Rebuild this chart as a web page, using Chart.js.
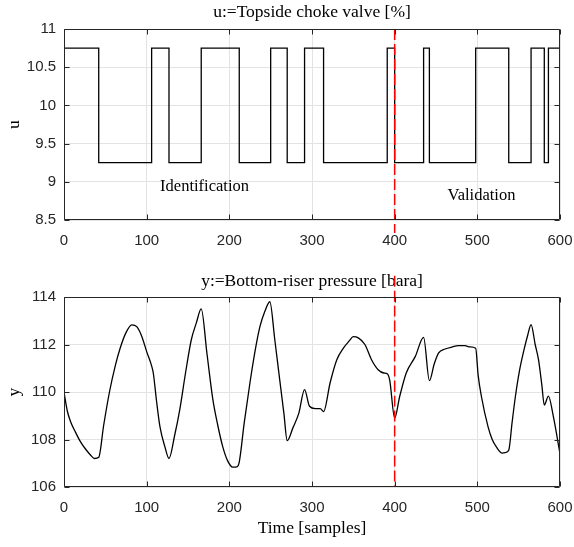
<!DOCTYPE html>
<html lang="en">
<head>
<meta charset="UTF-8">
<title>Topside choke valve / bottom-riser pressure</title>
<script src="https://cdn.jsdelivr.net/npm/chart.js"></script>
<style>
    body { margin: 0; background: #fff; }
    #wrap { position: relative; width: 574px; height: 547px; }
    .panel { position: absolute; left: 0; width: 574px; }
</style>
</head>
<body>
<div id="wrap">
    <div class="panel" style="top:0;height:260px"><canvas id="u-chart" width="574" height="260"></canvas></div>
    <div class="panel" style="top:260px;height:287px"><canvas id="y-chart" width="574" height="287"></canvas></div>
</div>
<script>
// input u: switching instants (samples) and the level held from each instant on
const uTimes  = [0, 42, 106, 127, 166, 212, 250, 270, 291, 314, 391, 400, 435, 442, 498, 538, 565, 581, 586, 600];
const uValues = [10.75, 9.25, 10.75, 9.25, 10.75, 9.25, 10.75, 9.25, 10.75, 9.25,
                 10.75, 9.25, 10.75, 9.25, 10.75, 9.25, 10.75, 9.25, 10.75, 10.75];

// output y: bottom-riser pressure
const ySamples = [0, 4, 8, 14, 20, 26, 32, 37, 42, 48, 55, 62, 68, 75, 82, 88, 94, 100, 106, 108,
                  112, 116, 122, 127, 134, 140, 147, 154, 160, 166, 173, 180, 186, 192, 198, 204, 209, 212,
                  218, 225, 231, 237, 243, 249, 255, 261, 266, 270, 277, 284, 291, 297, 304, 310, 314,
                  322, 330, 338, 345, 350, 356, 364, 372, 380, 387, 391, 394, 400, 406, 414, 425, 435,
                  442, 448, 453, 461, 470, 477, 485, 491, 498, 501, 505, 513, 518, 523, 530, 534, 538,
                  542, 546, 551, 556, 561, 565, 570, 574, 578, 581, 586, 592, 600];
const yValues  = [110.0, 109.2, 108.75, 108.3, 107.9, 107.6, 107.35, 107.2, 107.25, 108.6, 110.0, 111.1,
                  111.85, 112.5, 112.83, 112.75, 112.35, 111.7, 111.1, 110.8,
                  109.6, 108.55, 107.7, 107.2, 108.2, 109.25, 110.8, 112.2, 112.9, 113.5, 111.6, 109.7,
                  108.6, 107.7, 107.1, 106.84, 106.85, 107.05,
                  108.7, 110.4, 111.7, 112.75, 113.4, 113.8, 112.2, 110.5, 109.1, 107.95, 108.5, 109.1,
                  110.1, 109.4, 109.3, 109.3, 109.17,
                  110.4, 111.36, 111.85, 112.15, 112.33, 112.28, 112.0, 111.36, 110.94, 110.8, 110.77,
                  110.5, 108.9, 109.8, 110.8, 111.5, 112.3,
                  110.48, 111.2, 111.64, 111.81, 111.9, 111.95, 111.95, 111.9, 111.84, 110.7, 109.8,
                  108.53, 108.0, 107.69, 107.43, 107.45, 107.55,
                  108.7, 109.8, 110.9, 111.71, 112.4, 112.84, 112.0, 111.36, 110.3, 109.45, 109.83,
                  108.96, 107.4];

// identification / validation split
const splitSample = 400;
const uSplitSpan = [11, 8.33];
const ySplitSpan = [114.9, 106];

// axes
const xRange = [0, 600];
const xStep = 100;
const uRange = [8.5, 11];
const uStep = 0.5;
const yRange = [106, 114];
const yStep = 2;

// texts
const uTitle = 'u:=Topside choke valve [%]';
const yTitle = 'y:=Bottom-riser pressure [bara]';
const xLabel = 'Time [samples]';
const uNotes = [{ text: 'Identification', x: 170, y: 8.94 }, { text: 'Validation', x: 505, y: 8.82 }];

const serif = '"Liberation Serif", "Times New Roman", serif';
Chart.defaults.font.family = '"Liberation Sans", Arial, sans-serif';
Chart.defaults.font.size = 15;
Chart.defaults.color = '#262626';

// box round the axes, inward tick marks and the text notes
const frame = {
    id: 'frame',
    afterDatasetsDraw(chart, args, opts) {
        const { ctx, chartArea: a, scales: { x, y } } = chart;
        ctx.save();
        ctx.strokeStyle = '#262626';
        ctx.lineWidth = 1;
        const l = Math.round(a.left) + 0.5, r = Math.round(a.right) - 0.5;
        const t = Math.round(a.top) + 0.5, b = Math.round(a.bottom) - 0.5;
        ctx.beginPath();
        x.ticks.forEach(tk => {
            const px = Math.round(x.getPixelForValue(tk.value)) + 0.5;
            ctx.moveTo(px, b); ctx.lineTo(px, b - 5);
            ctx.moveTo(px, t); ctx.lineTo(px, t + 5);
        });
        y.ticks.forEach(tk => {
            const py = Math.round(y.getPixelForValue(tk.value)) + 0.5;
            ctx.moveTo(l, py); ctx.lineTo(l + 5, py);
            ctx.moveTo(r, py); ctx.lineTo(r - 5, py);
        });
        ctx.rect(l, t, r - l, b - t);
        ctx.stroke();
        (opts.notes || []).forEach(n => {
            ctx.font = '16.5px ' + serif;
            ctx.fillStyle = '#000';
            ctx.textAlign = 'center';
            ctx.textBaseline = 'middle';
            ctx.fillText(n.text, x.getPixelForValue(n.x), y.getPixelForValue(n.y));
        });
        ctx.restore();
    }
};

function makeChart(id, o) {
    const ctx = document.getElementById(id).getContext('2d');
    return new Chart(ctx, {
        type: 'line',
        data: {
            datasets: [{
                data: o.points,
                borderColor: '#000',
                borderWidth: 1.3,
                pointRadius: 0,
                stepped: o.stepped,
                cubicInterpolationMode: o.stepped ? 'default' : 'monotone',
                order: 1
            }, {
                data: [{ x: splitSample, y: o.split[0] }, { x: splitSample, y: o.split[1] }],
                borderColor: '#ff0000',
                borderWidth: 1.5,
                borderDash: [11, 4],
                pointRadius: 0,
                clip: false,
                order: 0
            }]
        },
        options: {
            responsive: false,
            animation: false,
            layout: { padding: { left: 0, right: 14, top: 0, bottom: 0 } },
            plugins: {
                legend: { display: false },
                tooltip: { enabled: false },
                title: {
                    display: true,
                    fullSize: false,
                    text: o.title,
                    color: '#000',
                    font: { family: serif, size: 17.5, weight: 'normal' },
                    padding: o.titlePad
                },
                frame: { notes: o.notes }
            },
            scales: {
                x: {
                    type: 'linear',
                    min: xRange[0],
                    max: xRange[1],
                    ticks: { stepSize: xStep, padding: 12, maxRotation: 0 },
                    grid: { color: '#e3e3e3', drawTicks: false },
                    border: { display: false },
                    title: {
                        display: !!o.xTitle,
                        text: o.xTitle,
                        color: '#000',
                        font: { family: serif, size: 17.5 },
                        padding: { top: 0, bottom: 8.5 }
                    },
                    afterFit: s => {
                        s.height = o.xHeight;
                        s.paddingLeft = 0;
                        s.paddingRight = 0;
                    }
                },
                y: {
                    min: o.range[0],
                    max: o.range[1],
                    ticks: { stepSize: o.step, padding: 8, callback: v => String(+v.toFixed(2)) },
                    grid: { color: '#e3e3e3', drawTicks: false },
                    border: { display: false },
                    title: {
                        display: true,
                        text: o.yName,
                        color: '#000',
                        font: { family: serif, size: 17.5 },
                        padding: { top: 4, bottom: 0 }
                    },
                    afterFit: s => { s.width = 64; }
                }
            }
        },
        plugins: [frame]
    });
}

makeChart('u-chart', {
    points: uTimes.map((t, i) => ({ x: t, y: uValues[i] })),
    stepped: true,
    split: uSplitSpan,
    title: uTitle,
    titlePad: { top: 1.5, bottom: 6.5 },
    notes: uNotes,
    xHeight: 40,
    range: uRange,
    step: uStep,
    yName: 'u'
});

makeChart('y-chart', {
    points: ySamples.map((s, i) => ({ x: s, y: yValues[i] })),
    stepped: false,
    split: ySplitSpan,
    title: yTitle,
    titlePad: { top: 10.5, bottom: 5.5 },
    notes: [],
    xTitle: xLabel,
    xHeight: 60,
    range: yRange,
    step: yStep,
    yName: 'y'
});
</script>
</body>
</html>
